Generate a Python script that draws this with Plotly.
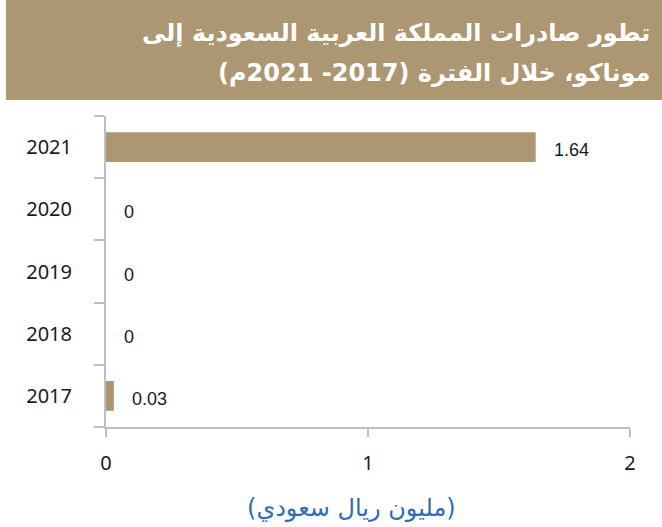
import plotly.graph_objects as go

years = ["2017", "2018", "2019", "2020", "2021"]
values = [0.03, 0, 0, 0, 1.64]
value_labels = ["0.03", "0", "0", "0", "1.64"]
x_ticks = [0, 1, 2]
title_lines = ["تطور صادرات المملكة العربية السعودية إلى", "موناكو، خلال الفترة (2017- 2021م)"]
x_title = "(مليون ريال سعودي)"

W, H = 662, 527
ml, mr, mt, mb = 106, 32, 116, 100
pw, ph = W - ml - mr, H - mt - mb

def px_x(p):
    return (p - ml) / pw

def px_y(p):
    return (H - mb - p) / ph

bar_color = "#ad9672"
axis_color = "#bfbfbf"

fig = go.Figure()
fig.add_trace(go.Bar(
    y=list(range(len(years))), x=values, orientation="h",
    marker=dict(color=bar_color, line=dict(width=0)),
    width=0.48, hoverinfo="skip",
))

for i, (xv, lab) in enumerate(zip(values, value_labels)):
    fig.add_annotation(x=xv, y=i, xref="x", yref="y", text=lab, showarrow=False,
                       xanchor="left", yanchor="middle", xshift=16, yshift=-3,
                       font=dict(family="Liberation Sans, Arial", size=18, color="#1a1a1a"))

fig.add_shape(type="rect", xref="paper", yref="paper",
              x0=px_x(6), x1=px_x(662), y0=px_y(100), y1=px_y(0),
              fillcolor=bar_color, line=dict(width=0), layer="below")

for line, yc in zip(title_lines, [33, 73]):
    fig.add_annotation(x=px_x(652), y=px_y(yc), xref="paper", yref="paper",
                       text="<b>" + line + "</b>", showarrow=False,
                       xanchor="right", yanchor="middle",
                       font=dict(family="DejaVu Sans", size=24, color="white"))

fig.add_annotation(x=px_x(351), y=px_y(508), xref="paper", yref="paper", text=x_title,
                   showarrow=False, xanchor="center", yanchor="middle",
                   font=dict(family="DejaVu Sans", size=24, color="#2e6db5"))

fig.update_layout(
    width=W, height=H,
    margin=dict(l=ml, r=mr, t=mt, b=mb, pad=0),
    paper_bgcolor="white", plot_bgcolor="white",
    showlegend=False,
    xaxis=dict(range=[0, 2], tickvals=x_ticks, ticktext=[str(v) for v in x_ticks],
               showgrid=False, zeroline=False, showline=True, linecolor=axis_color, linewidth=2,
               ticks="outside", ticklen=8, tickcolor=axis_color, tickwidth=2,
               tickfont=dict(family="Noto Sans", size=20, color="#1a1a1a"),
               ticklabelstandoff=9, fixedrange=True),
    yaxis=dict(range=[-0.5, 4.5], tickvals=list(range(len(years))), ticktext=years,
               showgrid=False, zeroline=False, showline=True, linecolor=axis_color, linewidth=2,
               ticks="",
               tickfont=dict(family="Noto Sans", size=20, color="#1a1a1a"),
               ticklabelstandoff=28, fixedrange=True),
)

fig.update_yaxes(minor=dict(tickvals=[-0.5, 0.5, 1.5, 2.5, 3.5, 4.5], ticks="outside",
                            ticklen=10, tickcolor=axis_color, tickwidth=2))

fig.write_html("out.html", config={"displayModeBar": False},
               post_script="document.body.style.margin='0';document.body.style.overflow='hidden';")
